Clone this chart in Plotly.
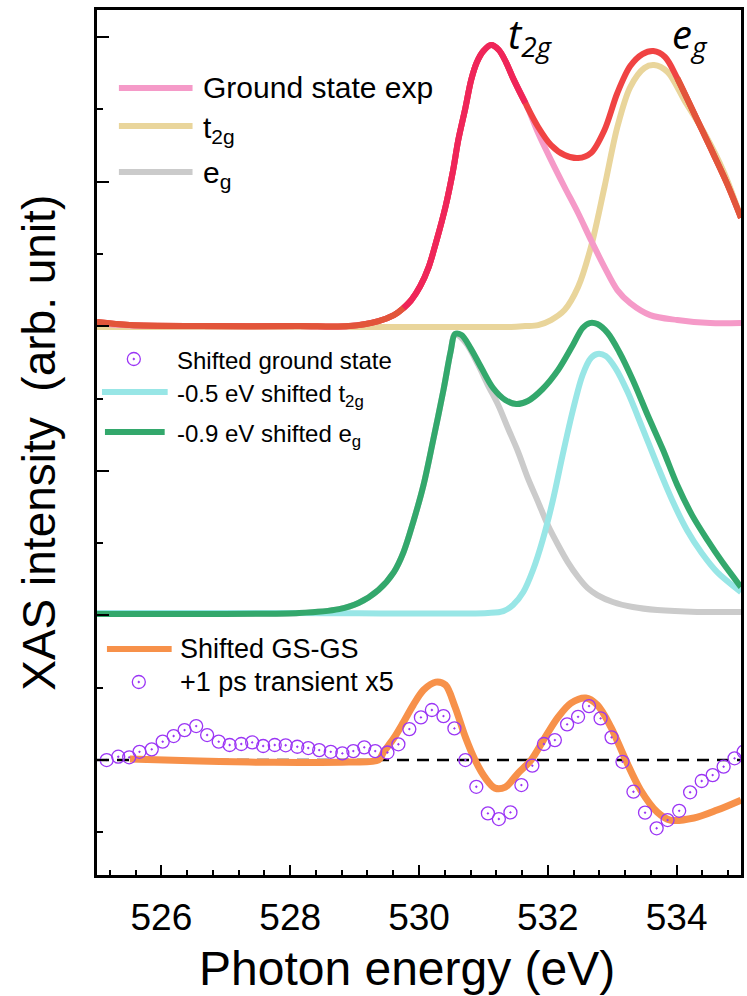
import plotly.graph_objects as go

# ---------------- ground state (offset +3) ----------------
gs_x = [525.00, 525.51, 526.59, 528.14, 528.91, 529.37, 529.61, 529.76, 529.88, 530.02,
        530.15, 530.27, 530.41, 530.53, 530.61, 530.72, 530.81, 530.90, 531.00, 531.12,
        531.24, 531.35, 531.46, 531.65, 531.85, 532.05, 532.26, 532.47, 532.67, 532.88,
        533.08, 533.28, 533.47, 533.64, 533.82, 534.01, 534.27, 534.52, 534.78, 535.00]
gs_y = [3.029, 3.008, 3.001, 3.001, 3.001, 3.036, 3.077, 3.126, 3.181, 3.278,
        3.409, 3.589, 3.824, 4.080, 4.288, 4.509, 4.703, 4.827, 4.903, 4.945,
        4.910, 4.827, 4.716, 4.544, 4.378, 4.253, 4.184, 4.163, 4.198, 4.357,
        4.613, 4.799, 4.882, 4.903, 4.862, 4.716, 4.474, 4.239, 3.990, 3.750]

gs_t2g_x = [525.00, 525.51, 526.59, 528.14, 528.91, 529.37, 529.61, 529.76, 529.88, 530.02,
            530.15, 530.27, 530.41, 530.53, 530.61, 530.72, 530.81, 530.90, 531.00, 531.12,
            531.24, 531.35, 531.46, 531.65, 531.85, 532.05, 532.26, 532.47, 532.67, 532.88,
            533.08, 533.28, 533.59, 534.01, 534.52, 535.00]
gs_t2g_y = [3.020, 3.005, 3.000, 3.000, 3.000, 3.036, 3.077, 3.126, 3.181, 3.278,
            3.409, 3.589, 3.824, 4.080, 4.288, 4.509, 4.703, 4.827, 4.903, 4.945,
            4.910, 4.827, 4.716, 4.550, 4.336, 4.149, 3.963, 3.783, 3.596, 3.409,
            3.250, 3.160, 3.077, 3.043, 3.022, 3.022]

gs_eg_x = [525.0, 527.0, 529.0, 530.5, 531.43, 531.65, 531.85, 532.05, 532.26, 532.47,
           532.67, 532.88, 533.08, 533.28, 533.50, 533.65, 533.86, 534.12, 534.43, 534.74, 535.0]
gs_eg_y = [2.995, 2.995, 2.995, 2.995, 2.995, 3.001, 3.008, 3.043, 3.112, 3.271,
           3.548, 3.963, 4.378, 4.654, 4.786, 4.806, 4.758, 4.564, 4.336, 4.059, 3.750]

# ---------------- shifted ground state (offset +1) ----------------
sh_x = [525.00, 526.59, 528.14, 528.76, 529.06, 529.37, 529.61, 529.76, 529.91, 530.07,
        530.22, 530.38, 530.49, 530.56, 530.66, 530.80, 530.97, 531.15, 531.34, 531.51,
        531.69, 531.92, 532.16, 532.39, 532.54, 532.65, 532.77, 532.93, 533.11, 533.32,
        533.55, 533.79, 534.01, 534.24, 534.48, 534.71, 535.00]
sh_y = [1.010, 1.010, 1.017, 1.044, 1.086, 1.176, 1.300, 1.438, 1.646, 1.902,
        2.213, 2.559, 2.822, 2.946, 2.939, 2.849, 2.711, 2.573, 2.490, 2.462,
        2.483, 2.566, 2.697, 2.870, 2.988, 3.022, 3.015, 2.953, 2.822, 2.628,
        2.386, 2.144, 1.902, 1.694, 1.521, 1.369, 1.196]

sh_t2g_x = [525.00, 528.00, 531.07, 531.31, 531.46, 531.62, 531.77, 531.92, 532.08, 532.23,
            532.39, 532.54, 532.67, 532.77, 532.90, 533.05, 533.24, 533.47, 533.70, 533.93,
            534.16, 534.39, 534.63, 535.00]
sh_t2g_y = [1.017, 1.017, 1.017, 1.030, 1.072, 1.162, 1.314, 1.521, 1.798, 2.109,
            2.420, 2.663, 2.780, 2.808, 2.794, 2.711, 2.545, 2.296, 2.040, 1.798,
            1.591, 1.432, 1.300, 1.162]

sh_eg_x = [525.00, 526.59, 528.14, 528.76, 529.06, 529.37, 529.61, 529.76, 529.91, 530.07,
           530.22, 530.38, 530.49, 530.56, 530.73, 530.92, 531.07, 531.23, 531.38, 531.54,
           531.69, 531.85, 532.00, 532.16, 532.31, 532.47, 532.62, 532.77, 533.01, 533.32,
           533.70, 534.32, 535.00]
sh_eg_y = [1.010, 1.010, 1.017, 1.044, 1.086, 1.176, 1.300, 1.438, 1.646, 1.902,
           2.213, 2.559, 2.822, 2.946, 2.884, 2.732, 2.593, 2.455, 2.296, 2.130,
           1.950, 1.784, 1.625, 1.487, 1.369, 1.266, 1.189, 1.141, 1.093, 1.058,
           1.037, 1.024, 1.024]

# ---------------- difference spectra ----------------
diff_x = [525.51, 526.59, 527.36, 528.14, 528.91, 529.37, 529.45, 529.61, 529.76, 529.91,
          530.07, 530.26, 530.41, 530.56, 530.72, 530.87, 531.03, 531.18, 531.34, 531.54,
          531.74, 531.96, 532.16, 532.36, 532.59, 532.77, 532.98, 533.21, 533.44, 533.70,
          533.90, 534.27, 534.63, 535.0]
diff_y = [0.007, -0.007, -0.014, -0.017, -0.014, 0.0, 0.055, 0.152, 0.263, 0.380,
          0.484, 0.539, 0.519, 0.367, 0.159, 0.0, -0.124, -0.194, -0.187, -0.090,
          0.0, 0.159, 0.297, 0.394, 0.429, 0.380, 0.228, 0.0, -0.207, -0.360,
          -0.415, -0.401, -0.346, -0.277]

tr_x = [525.15, 525.33, 525.50, 525.66, 525.85, 526.02, 526.19, 526.36, 526.54, 526.71,
        526.89, 527.06, 527.24, 527.41, 527.58, 527.76, 527.93, 528.11, 528.28, 528.45,
        528.63, 528.81, 528.98, 529.15, 529.32, 529.51, 529.68, 529.85, 530.03, 530.20,
        530.38, 530.55, 530.72, 530.89, 531.07, 531.24, 531.42, 531.59, 531.76, 531.94,
        532.11, 532.30, 532.47, 532.64, 532.82, 532.99, 533.16, 533.33, 533.51, 533.69,
        533.86, 534.04, 534.21, 534.39, 534.56, 534.73, 534.90, 535.04]
tr_y = [0.0, 0.023, 0.019, 0.057, 0.074, 0.127, 0.166, 0.207, 0.235, 0.173,
        0.127, 0.104, 0.111, 0.122, 0.097, 0.104, 0.102, 0.092, 0.083, 0.069,
        0.057, 0.046, 0.062, 0.088, 0.062, 0.052, 0.109, 0.214, 0.295, 0.346,
        0.304, 0.219, 0.0, -0.185, -0.369, -0.408, -0.362, -0.173, -0.039, 0.111,
        0.138, 0.247, 0.299, 0.373, 0.288, 0.157, -0.012, -0.219, -0.364, -0.472,
        -0.415, -0.351, -0.223, -0.145, -0.104, -0.046, 0.012, 0.057]

x_ticks = [526, 528, 530, 532, 534]

# ---------------- colours ----------------
PINK = "#f59ac8"
TAN = "#e9d59b"
GRAY = "#cbcbcb"
RED = "#f04343"
CRIMSON = "#ef2559"
REDORANGE = "#e2553a"
CYAN = "#98e6e6"
GREEN = "#33a86c"
ORANGE = "#f7914a"
PURPLE = "#9b35f5"
LW = 6

# figure geometry (plot area in pixels)
W, H = 747, 996
L, R, T, B = 97, 744, 10, 875


def px(x):
    return (x - L) / (R - L)


def py(y):
    return (B - y) / (B - T)


fig = go.Figure()


def line(x, y, color, width=LW):
    fig.add_trace(go.Scatter(x=x, y=y, mode="lines",
                             line=dict(color=color, width=width, shape="spline", smoothing=0.9),
                             showlegend=False, hoverinfo="skip"))


# top spectrum: components, then the sum
line(gs_eg_x, gs_eg_y, TAN)
line(gs_t2g_x, gs_t2g_y, PINK)
line(gs_x, gs_y, RED)
# colour of the sum where it overlaps the components
line(gs_x[:9], gs_y[:9], REDORANGE)
line(gs_x[7:24], gs_y[7:24], CRIMSON)
line(gs_x[35:], gs_y[35:], REDORANGE)

# middle spectrum
line(sh_eg_x, sh_eg_y, GRAY)
line(sh_t2g_x, sh_t2g_y, CYAN)
line(sh_x, sh_y, GREEN)

# difference spectra
line(diff_x, diff_y, ORANGE, width=7)
MARK = dict(symbol="circle-open-dot", size=13, color=PURPLE, line=dict(width=1.3, color=PURPLE))
fig.add_trace(go.Scatter(x=tr_x, y=tr_y, mode="markers", marker=MARK, showlegend=False, hoverinfo="skip"))

# zero reference line
fig.add_shape(type="line", xref="x domain", yref="y", x0=0, x1=1, y0=0, y1=0,
              line=dict(color="black", width=2.5, dash="12px,8px"), layer="below")

# ---------------- legend keys (overlay axes in paper units) ----------------
keys = [
    ((119, 193), 88, PINK), ((119, 193), 126, TAN), ((119, 193), 172, GRAY),
    ((102, 168), 392, CYAN), ((105, 165), 432, GREEN),
    ((107, 172), 649, ORANGE),
]
for (xa, xb), yy, c in keys:
    fig.add_trace(go.Scatter(x=[px(xa), px(xb)], y=[py(yy), py(yy)], mode="lines",
                             line=dict(color=c, width=LW), xaxis="x2", yaxis="y2",
                             showlegend=False, hoverinfo="skip"))
fig.add_trace(go.Scatter(x=[px(134), px(139)], y=[py(359), py(682)], mode="markers", marker=MARK,
                         xaxis="x2", yaxis="y2", showlegend=False, hoverinfo="skip"))

FONT = "Arial, 'Liberation Sans', sans-serif"
labels = [
    (201, 88, "Ground state exp", 30),
    (201, 129, "t<sub>2g</sub>", 30),
    (201, 175, "e<sub>g</sub>", 30),
    (175, 360, "Shifted ground state", 24),
    (175, 395, "-0.5 eV shifted t<sub>2g</sub>", 24),
    (175, 435, "-0.9 eV shifted e<sub>g</sub>", 24),
    (178, 649, "Shifted GS-GS", 27),
    (178, 682, "+1 ps transient x5", 27),
]
for xx, yy, txt, fs in labels:
    fig.add_annotation(x=px(xx), y=py(yy), xref="paper", yref="paper", text=txt, showarrow=False,
                       xanchor="left", yanchor="middle", font=dict(family=FONT, size=fs, color="black"))

# peak labels
for xx, txt in [(508, "<i>t<sub>2g</sub></i>"), (673, "<i>e<sub>g</sub></i>")]:
    fig.add_annotation(x=px(xx), y=py(4), xref="paper", yref="paper", text=txt, showarrow=False,
                       xanchor="left", yanchor="top", font=dict(family="Open Sans", size=40, color="black"))

# axis titles
fig.add_annotation(x=px(38), y=0.5, xref="paper", yref="paper", text="XAS intensity\u00a0 (arb. unit)",
                   textangle=-90, showarrow=False, xanchor="center", yanchor="middle",
                   font=dict(family=FONT, size=46, color="black"))
fig.add_annotation(x=px(408), y=py(968), xref="paper", yref="paper", text="Photon energy (eV)",
                   showarrow=False, xanchor="center", yanchor="middle",
                   font=dict(family=FONT, size=48, color="black"))

fig.update_layout(
    width=W, height=H,
    margin=dict(l=L, r=W - R, t=T, b=H - B),
    paper_bgcolor="white", plot_bgcolor="white",
    showlegend=False,
    xaxis=dict(range=[525, 535], tickvals=x_ticks, ticks="inside", ticklen=10, tickwidth=2,
               tickcolor="black", showline=True, linecolor="black", linewidth=2.5, mirror=True,
               showgrid=False, zeroline=False,
               tickfont=dict(family=FONT, size=37, color="black"), ticklabelstandoff=8,
               minor=dict(tick0=526, dtick=0.4, ticks="inside", ticklen=5, tickwidth=2, tickcolor="black")),
    yaxis=dict(range=[-0.795, 5.187], tick0=0, dtick=1, ticks="inside", ticklen=12, tickwidth=2,
               tickcolor="black", showticklabels=False, showline=True, linecolor="black", linewidth=2.5,
               mirror=True, showgrid=False, zeroline=False,
               minor=dict(tick0=0.5, dtick=1, ticks="inside", ticklen=6, tickwidth=2, tickcolor="black")),
    xaxis2=dict(overlaying="x", range=[0, 1], visible=False),
    yaxis2=dict(overlaying="y", range=[0, 1], visible=False),
)

fig.write_html("out.html")
